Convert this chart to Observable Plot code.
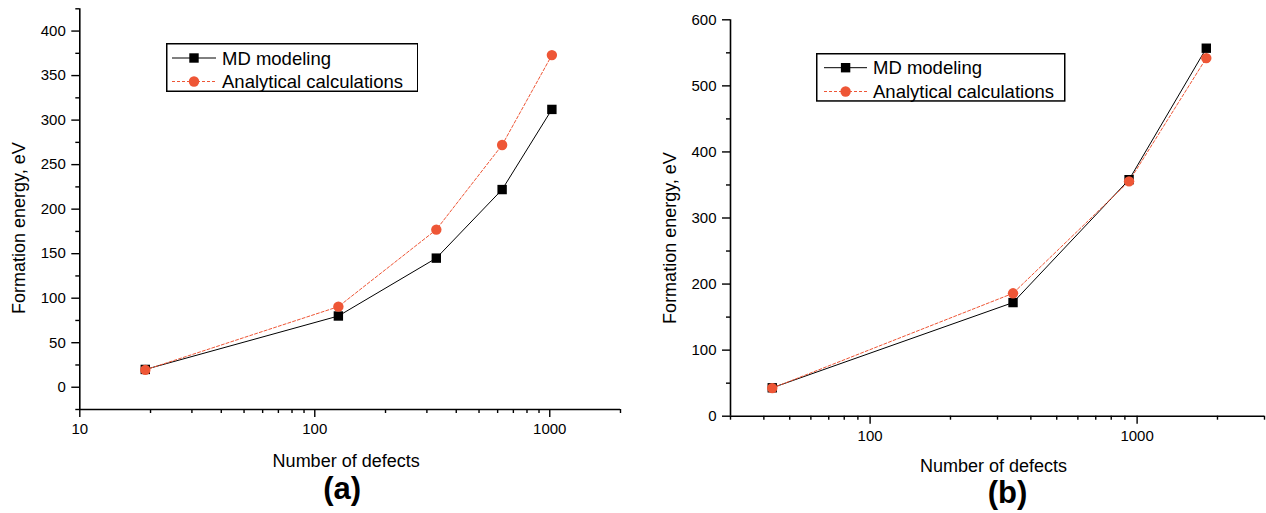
<!DOCTYPE html>
<html><head><meta charset="utf-8">
<script src="https://cdn.jsdelivr.net/npm/d3@7"></script>
<script src="https://cdn.jsdelivr.net/npm/@observablehq/plot@0.6"></script>
<style>
body{margin:0;background:#fff;}
#root{position:relative;width:1266px;height:513px;overflow:hidden;font-family:"Liberation Sans",Arial,sans-serif;}
.panel{position:absolute;top:0;}
.legend{position:absolute;}
</style></head><body><div id="root"></div>
<script>
// ---- data ----
const defectsA = [19, 126, 329, 627, 1021];
const mdA = [20, 80, 145, 222, 312];
const analyticA = [19.5, 90.5, 177, 272, 373];

const defectsB = [43, 343, 933, 1816];
const mdB = [43, 172, 358, 557];
const analyticB = [42.5, 186, 355.5, 542];

const seriesNames = ["MD modeling", "Analytical calculations"];
const xTitle = "Number of defects";
const yTitle = "Formation energy, eV";

const xMajorA = [10, 100, 1000];
const xMinorA = [20,30,40,50,60,70,80,90,200,300,400,500,600,700,800,900,2000];
const yMajorA = [0,50,100,150,200,250,300,350,400];
const yMinorA = [-25,25,75,125,175,225,275,325,375,425];

const xMajorB = [100, 1000];
const xMinorB = [30,40,50,60,70,80,90,200,300,400,500,600,700,800,900,2000,3000];
const yMajorB = [0,100,200,300,400,500,600];
const yMinorB = [50,150,250,350,450,550];

const RED = "#ee5636";
const FONT = "'Liberation Sans', Arial, sans-serif";

function makePanel(o) {
  const md = o.n.map((n, i) => ({n, v: o.md[i]}));
  const an = o.n.map((n, i) => ({n, v: o.an[i]}));
  return Plot.plot({
    width: o.width, height: 513,
    marginLeft: o.ml, marginRight: o.mr, marginTop: o.mt, marginBottom: o.mb,
    style: {fontFamily: FONT, fontSize: "15px", background: "transparent", overflow: "visible", color: "#000"},
    x: {type: "log", domain: o.xDomain, label: null},
    y: {domain: o.yDomain, label: null},
    marks: [
      Plot.axisX(o.xMinor, {tickSize: 4, tickFormat: () => "", strokeWidth: 1.4, label: null}),
      Plot.axisX(o.xMajor, {tickSize: 8, tickPadding: 6, tickFormat: d => String(d), strokeWidth: 1.4, fontSize: 15, label: null}),
      Plot.axisY(o.yMinor, {tickSize: 4, tickFormat: () => "", strokeWidth: 1.4, label: null}),
      Plot.axisY(o.yMajor, {tickSize: 8, tickPadding: 6, tickFormat: d => String(d), strokeWidth: 1.4, fontSize: 15, label: null}),
      Plot.ruleX([o.xDomain[0]], {stroke: "#000", strokeWidth: 1.6}),
      Plot.ruleY([o.yDomain[0]], {stroke: "#000", strokeWidth: 1.6}),
      Plot.line(md, {x: "n", y: "v", stroke: "#000", strokeWidth: 1}),
      Plot.line(an, {x: "n", y: "v", stroke: RED, strokeWidth: 1, strokeDasharray: "3,2"}),
      Plot.dot(md, {x: "n", y: "v", symbol: "square", r: 5.3, fill: "#000", stroke: "none"}),
      Plot.dot(an, {x: "n", y: "v", symbol: "circle", r: 5.2, fill: RED, stroke: "none"}),
      Plot.text([xTitle], {frameAnchor: "bottom", textAnchor: "middle", lineAnchor: "bottom", dx: o.xtDx, dy: o.xtDy, fontSize: 18, fill: "#000"}),
      Plot.text([o.letter], {frameAnchor: "bottom", textAnchor: "middle", lineAnchor: "bottom", dx: o.lDx, dy: o.lDy, fontSize: 31, fontWeight: "bold", fill: "#000"}),
      Plot.text([yTitle], {frameAnchor: "left", textAnchor: "middle", rotate: -90, dx: o.ytDx, dy: o.ytDy, fontSize: 18, fill: "#000"})
    ]
  });
}

function makeLegend(o) {
  const ns = "http://www.w3.org/2000/svg";
  const svg = document.createElementNS(ns, "svg");
  svg.setAttribute("width", o.w); svg.setAttribute("height", o.h);
  svg.setAttribute("class", "legend");
  svg.style.left = o.x + "px"; svg.style.top = o.y + "px";
  const el = (tag, attrs, parent = svg) => { const e = document.createElementNS(ns, tag); for (const k in attrs) e.setAttribute(k, attrs[k]); parent.appendChild(e); return e; };
  el("rect", {x: 0.75, y: 0.75, width: o.w - 1.5, height: o.h - 1.5, fill: "#fff", stroke: "#000", "stroke-width": 1.5});
  const rows = [o.r1, o.r2];
  el("line", {x1: o.lx1, x2: o.lx2, y1: o.r1, y2: o.r1, stroke: "#000", "stroke-width": 1});
  el("rect", {x: o.mx - 4.7, y: o.r1 - 4.7, width: 9.4, height: 9.4, fill: "#000"});
  el("line", {x1: o.lx1, x2: o.lx2, y1: o.r2, y2: o.r2, stroke: RED, "stroke-width": 1, "stroke-dasharray": "3,2"});
  el("circle", {cx: o.mx, cy: o.r2, r: 5.2, fill: RED});
  seriesNames.forEach((s, i) => {
    const t = el("text", {x: o.tx, y: rows[i], "dominant-baseline": "central", "font-size": 18.5, "font-family": FONT, fill: "#000"});
    t.textContent = s;
  });
  return svg;
}

const root = document.getElementById("root");

const pa = makePanel({
  n: defectsA, md: mdA, an: analyticA,
  width: 640, ml: 79.3, mr: 20, mt: 8.3, mb: 104,
  xDomain: [10, 2000], yDomain: [-25, 425],
  xMajor: xMajorA, xMinor: xMinorA, yMajor: yMajorA, yMinor: yMinorA,
  letter: "(a)", xtDx: -4, xtDy: 57, lDx: -8, lDy: 89, ytDx: -61, ytDy: 19
});
pa.classList.add("panel"); pa.style.left = "0px";
root.appendChild(pa);

const pb = makePanel({
  n: defectsB, md: mdB, an: analyticB,
  width: 626, ml: 90, mr: 2, mt: 19.3, mb: 97.3,
  xDomain: [30, 3000], yDomain: [0, 600],
  xMajor: xMajorB, xMinor: xMinorB, yMajor: yMajorB, yMinor: yMinorB,
  letter: "(b)", xtDx: -4, xtDy: 56, lDx: 10, lDy: 87, ytDx: -60, ytDy: 20
});
pb.classList.add("panel"); pb.style.left = "640px";
root.appendChild(pb);

root.appendChild(makeLegend({x: 165.5, y: 43.3, w: 252.5, h: 49, r1: 15, r2: 38.5, lx1: 6, lx2: 50, mx: 28, tx: 56}));
root.appendChild(makeLegend({x: 816, y: 53.3, w: 249.5, h: 48.7, r1: 14.7, r2: 38.5, lx1: 8, lx2: 51, mx: 29.6, tx: 57}));
</script>
</body></html>
